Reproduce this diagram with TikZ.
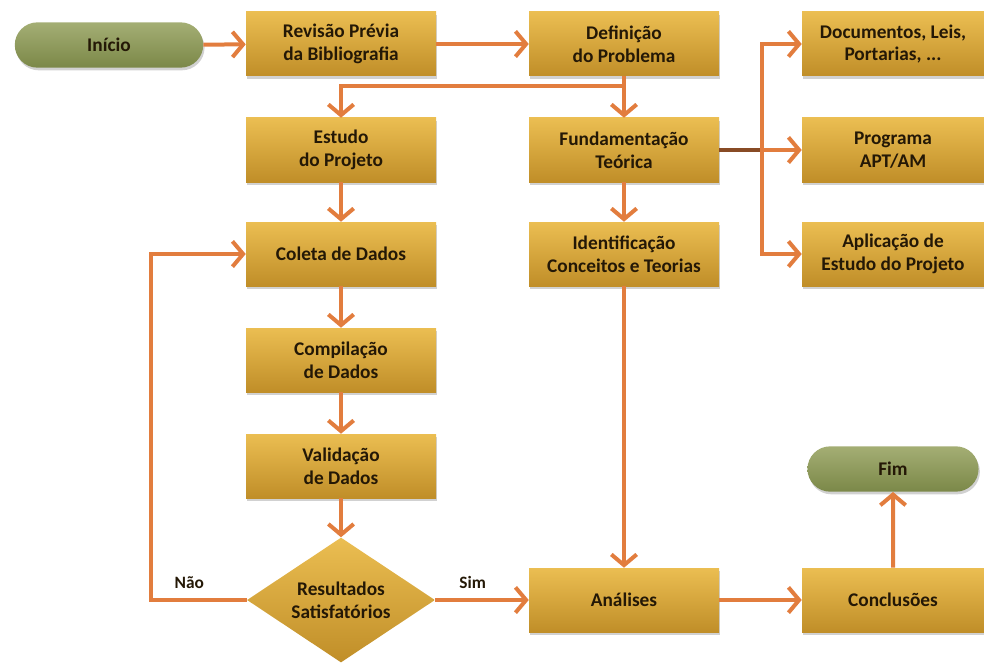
\documentclass[tikz,border=0pt]{standalone}
\usepackage{fontspec}
\setmainfont{Carlito}
\usepackage{tikz}
\usetikzlibrary{arrows.meta,shapes,shadows,positioning}

\definecolor{boxtop}{HTML}{EBBE52}
\definecolor{boxbot}{HTML}{C08E28}
\definecolor{pilltop}{HTML}{A4AE74}
\definecolor{pillbot}{HTML}{7B8848}
\definecolor{flow}{HTML}{E27D3E}
\definecolor{ink}{HTML}{241806}

\begin{document}
\begin{tikzpicture}[x=0.75pt, y=-0.75pt,
  every node/.style={font=\bfseries\fontsize{14.5}{17}\selectfont, text=ink, align=center},
  stepbox/.style={rectangle, top color=boxtop, bottom color=boxbot, minimum width=142.5pt, minimum height=48pt,
    drop shadow={shadow xshift=1pt, shadow yshift=-2pt, opacity=0.3, fill=black!60}},
  sidebox/.style={stepbox, minimum width=136.5pt},
  pill/.style={rounded rectangle, top color=pilltop, bottom color=pillbot, minimum height=34pt,
    drop shadow={shadow xshift=1pt, shadow yshift=-2pt, opacity=0.3, fill=black!60}},
  decision/.style={diamond, top color=boxtop, bottom color=boxbot, inner sep=-2pt, minimum width=141pt, minimum height=93pt},
  answer/.style={font=\bfseries\fontsize{13}{15}\selectfont},
  link/.style={draw=flow, line width=3pt, -{Straight Barb[length=8pt, width=19pt]}}]
  \useasboundingbox (0,0) rectangle (984,663);

  \node[pill, minimum width=148pt] (inicio) at (109,45) {Início};
  \node[stepbox] (rev) at (341,44) {Revisão Prévia\\da Bibliografia};
  \node[stepbox] (def) at (624,44) {Definição\\do Problema};
  \node[sidebox] (doc) at (893,44) {Documentos, Leis,\\Portarias, ...};

  \node[stepbox] (est) at (341,150) {Estudo\\do Projeto};
  \node[stepbox] (fund) at (624,150) {Fundamentação\\Teórica};
  \node[sidebox] (prog) at (893,150) {Programa\\APT/AM};

  \node[stepbox] (col) at (341,254) {Coleta de Dados};
  \node[stepbox] (iden) at (624,254) {Identificação\\Conceitos e Teorias};
  \node[sidebox] (apl) at (893,254) {Aplicação de\\Estudo do Projeto};

  \node[stepbox] (comp) at (341,360) {Compilação\\de Dados};
  \node[stepbox] (val) at (341,466) {Validação\\de Dados};
  \node[decision] (res) at (341,600) {Resultados\\Satisfatórios};

  \node[stepbox] (ana) at (624,600) {Análises};
  \node[sidebox] (conc) at (893,600) {Conclusões};
  \node[pill, minimum width=135pt] (fim) at (893,469) {Fim};

  \coordinate (split) at (624,86);
  \coordinate (fork) at (762,150);
  \coordinate (back) at (151,600);

  \draw[link] (inicio) -- (rev);
  \draw[link] (rev) -- (def);
  \draw[link] (def) -- (fund);
  \draw[link] (split) -| (est);
  \draw[link] (est) -- (col);
  \draw[link] (col) -- (comp);
  \draw[link] (comp) -- (val);
  \draw[link] (val) -- (res);
  \draw[link] (res.west) -- node[answer, pos=0.6, above=4pt] (nao) {Não} (back) |- (col.west);
  \draw[link] (res.east) -- node[answer, pos=0.4, above=4pt] (sim) {Sim} (ana.west);
  \draw[link] (fund) -- (iden);
  \draw[link] (iden) -- (ana);
  \draw[link] (ana) -- (conc);
  \draw[link] (conc) -- (fim);
  \draw[draw=flow!60!black, line width=3pt] (fund.east) -- (fork);
  \draw[link] (fork) |- (doc.west);
  \draw[link] (fork) -- (prog.west);
  \draw[link] (fork) |- (apl.west);
\end{tikzpicture}
\end{document}
